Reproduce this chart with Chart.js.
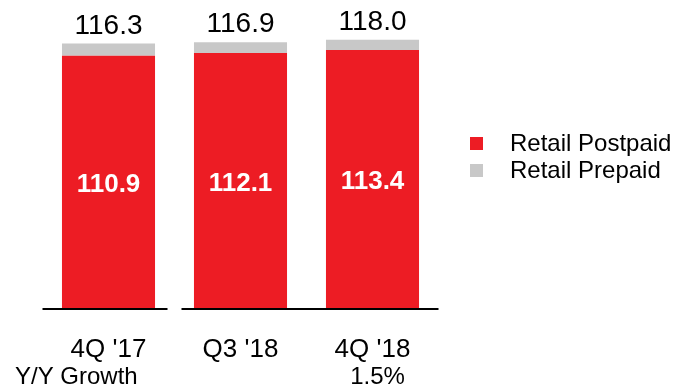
<!DOCTYPE html>
<html>
<head>
<meta charset="utf-8">
<script src="https://cdn.jsdelivr.net/npm/chart.js@4/dist/chart.umd.min.js"></script>
<style>
  html, body { margin: 0; padding: 0; background: #ffffff; }
  canvas { display: block; }
</style>
</head>
<body>
<canvas id="chart" width="679" height="388" style="width:679px;height:388px"></canvas>
<script>
// Retail connections by quarter (millions)
const categories = ["4Q '17", "Q3 '18", "4Q '18"];
const postpaid = [110.9, 112.1, 113.4];
const prepaid = [5.4, 4.8, 4.6];
const seriesNames = ["Retail Postpaid", "Retail Prepaid"];
const growthLabel = "Y/Y Growth";
const growthValues = ["", "", "1.5%"];

const FONT = "'Liberation Sans', Arial, Helvetica, sans-serif";
const RED = "#ED1C24";
const GREY = "#C8C8C8";

// Totals above each stack, white values inside the red segment
const valueLabels = {
  id: "valueLabels",
  afterDatasetsDraw(chart) {
    const ctx = chart.ctx;
    const postMeta = chart.getDatasetMeta(0);
    const preMeta = chart.getDatasetMeta(1);
    ctx.save();
    ctx.textAlign = "center";
    postMeta.data.forEach((bar, i) => {
      const p = bar.getProps(["x", "y", "base"], true);
      ctx.fillStyle = "#ffffff";
      ctx.font = "bold 26px " + FONT;
      ctx.textBaseline = "middle";
      ctx.fillText(postpaid[i].toFixed(1), p.x, (p.y + p.base) / 2 + 3);
    });
    preMeta.data.forEach((bar, i) => {
      const p = bar.getProps(["x", "y"], true);
      const total = postpaid[i] + prepaid[i];
      ctx.fillStyle = "#000000";
      ctx.font = "28px " + FONT;
      ctx.textBaseline = "alphabetic";
      ctx.fillText(total.toFixed(1), p.x, p.y - 10);
    });
    ctx.restore();
  }
};

// Split baseline, growth row and legend
const decorations = {
  id: "decorations",
  afterDraw(chart) {
    const ctx = chart.ctx;
    const area = chart.chartArea;
    const xs = chart.scales.x;
    const gapCenter = (xs.getPixelForValue(0) + xs.getPixelForValue(1)) / 2;
    ctx.save();
    ctx.strokeStyle = "#000000";
    ctx.lineWidth = 2;
    ctx.beginPath();
    ctx.moveTo(area.left, area.bottom + 1);
    ctx.lineTo(gapCenter - 7, area.bottom + 1);
    ctx.moveTo(gapCenter + 7, area.bottom + 1);
    ctx.lineTo(area.right, area.bottom + 1);
    ctx.stroke();

    ctx.fillStyle = "#000000";
    ctx.font = "24px " + FONT;
    ctx.textBaseline = "alphabetic";
    ctx.textAlign = "left";
    ctx.fillText(growthLabel, 15, 384);
    ctx.textAlign = "center";
    growthValues.forEach((v, i) => {
      if (v) ctx.fillText(v, xs.getPixelForValue(i) + 5, 384);
    });

    // legend
    const rows = [137, 164];
    chart.data.datasets.forEach((ds, i) => {
      ctx.fillStyle = ds.backgroundColor;
      ctx.fillRect(470, rows[i], 13, 13);
      ctx.fillStyle = "#000000";
      ctx.font = "24px " + FONT;
      ctx.textAlign = "left";
      ctx.textBaseline = "middle";
      ctx.fillText(ds.label, 510, rows[i] + 7);
    });
    ctx.restore();
  }
};

new Chart(document.getElementById("chart"), {
  type: "bar",
  data: {
    labels: categories,
    datasets: [
      { label: seriesNames[0], data: postpaid, backgroundColor: RED },
      { label: seriesNames[1], data: prepaid, backgroundColor: GREY }
    ]
  },
  options: {
    responsive: false,
    animation: false,
    devicePixelRatio: 1,
    layout: { padding: { top: 1, left: 42.5, right: 240.5, bottom: 0 } },
    plugins: {
      legend: { display: false },
      tooltip: { enabled: false }
    },
    datasets: {
      bar: { categoryPercentage: 1, barPercentage: 0.705, borderWidth: 0 }
    },
    scales: {
      x: {
        stacked: true,
        offset: true,
        grid: { display: false },
        border: { display: false },
        ticks: { color: "#000000", font: { family: FONT, size: 26 }, padding: 18, maxRotation: 0 },
        afterFit(scale) { scale.height = 80; }
      },
      y: {
        stacked: true,
        display: false,
        min: 0,
        max: 135
      }
    }
  },
  plugins: [valueLabels, decorations]
});
</script>
</body>
</html>
